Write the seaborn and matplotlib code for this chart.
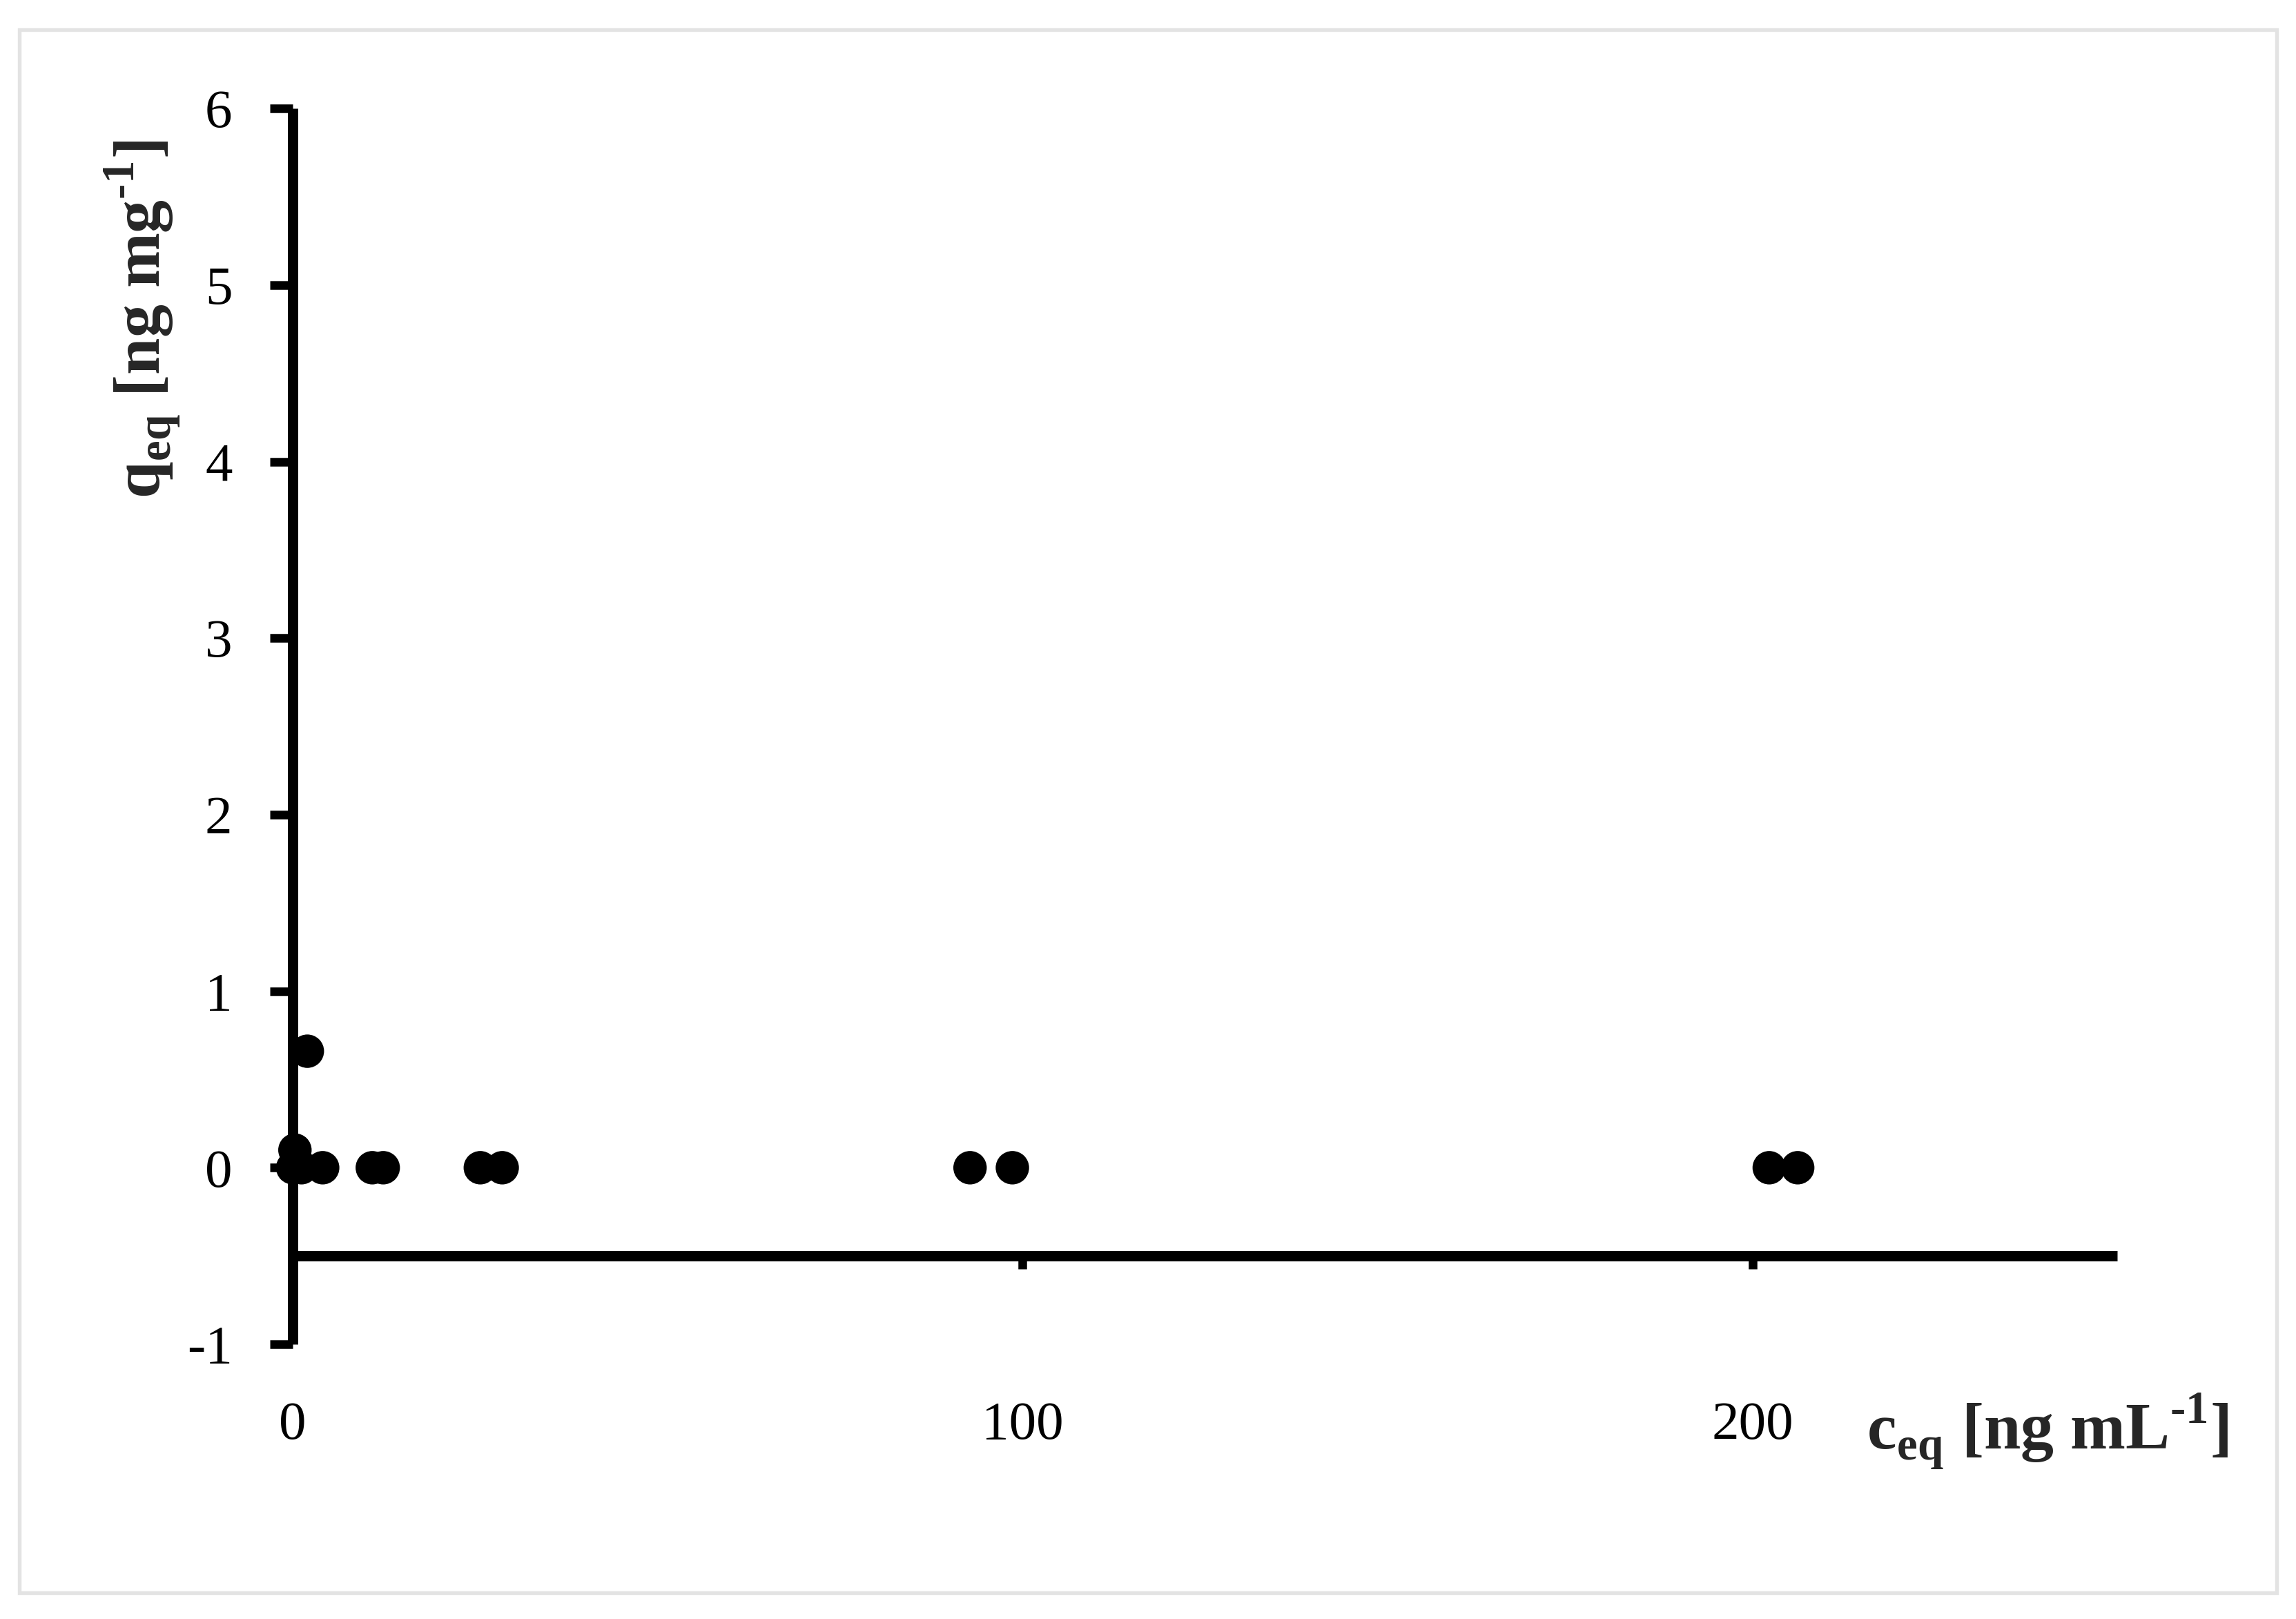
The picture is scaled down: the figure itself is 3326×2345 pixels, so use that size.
import matplotlib
matplotlib.use("Agg")
import matplotlib.pyplot as plt
import seaborn as sns
import pandas as pd
from matplotlib.patches import Rectangle

# data
c_eq = [0.0, 0.3, 1.2, 2.0, 4.1, 10.9, 12.4, 25.7, 28.7, 92.8, 98.6, 202.3, 206.2]
q_eq = [0.0, 0.1, 0.0, 0.66, 0.0, 0.0, 0.0, 0.0, 0.0, 0.0, 0.0, 0.0, 0.0]
x_ticks = [0, 100, 200]
y_ticks = [-1, 0, 1, 2, 3, 4, 5, 6]

df = pd.DataFrame({"c_eq": c_eq, "q_eq": q_eq})

sns.set_style("ticks")
plt.rcParams['font.family'] = ['Liberation Serif', 'DejaVu Serif']
plt.rcParams['mathtext.fontset'] = 'custom'
plt.rcParams['mathtext.rm'] = 'Liberation Serif'
plt.rcParams['mathtext.bf'] = 'Liberation Serif:bold'
plt.rcParams['axes.unicode_minus'] = False

DPI = 300
fig = plt.figure(figsize=(3326 / DPI, 2345 / DPI), dpi=DPI)
ax = fig.add_axes([0.1275, 0.1697, 0.7947, 0.7633])

sns.scatterplot(data=df, x="c_eq", y="q_eq", color="black", s=135,
                edgecolor="none", ax=ax, zorder=5, clip_on=False)

ax.set_xlim(0, 250)
ax.set_ylim(-1, 6)
ax.set_xticks(x_ticks)
ax.set_yticks(y_ticks)
ax.set_xlabel("")
ax.set_ylabel("")

# excel-like axes: y axis at x=0, x axis crossing at y=-0.5
ax.spines['top'].set_visible(False)
ax.spines['right'].set_visible(False)
ax.spines['bottom'].set_position(('data', -0.5))
for s in ['left', 'bottom']:
    ax.spines[s].set_linewidth(3.6)
    ax.spines[s].set_color('black')
    ax.spines[s].set_capstyle('butt')

ax.tick_params(axis='y', direction='out', length=8, width=3, pad=13,
               labelsize=19, colors='black')
ax.tick_params(axis='x', direction='out', length=4.5, width=3, pad=46,
               labelsize=19, colors='black')

# axis titles
ylab = r'$\mathbf{q}_{\mathbf{eq}}$ [ng mg$^{\mathbf{\u2010}\mathbf{1}}$]'
xlab = r'$\mathbf{c}_{\mathbf{eq}}$ [ng mL$^{\mathbf{\u2010}\mathbf{1}}$]'
ylab = ylab.replace('\\u2010', '\u2010')
xlab = xlab.replace('\\u2010', '\u2010')
fig.text(0.062, 0.803, ylab, rotation=90, fontweight='bold',
         ha='center', va='center', fontsize=23)
fig.text(0.813, 0.116, xlab, fontweight='bold',
         ha='left', va='center', fontsize=23)

# light grey frame around the figure
fig.patches.append(Rectangle((0.0085, 0.016), 0.983, 0.9655, transform=fig.transFigure,
                             fill=False, edgecolor='#e3e3e3', linewidth=1.3))

plt.savefig("out.png", dpi=DPI)
plt.close()
